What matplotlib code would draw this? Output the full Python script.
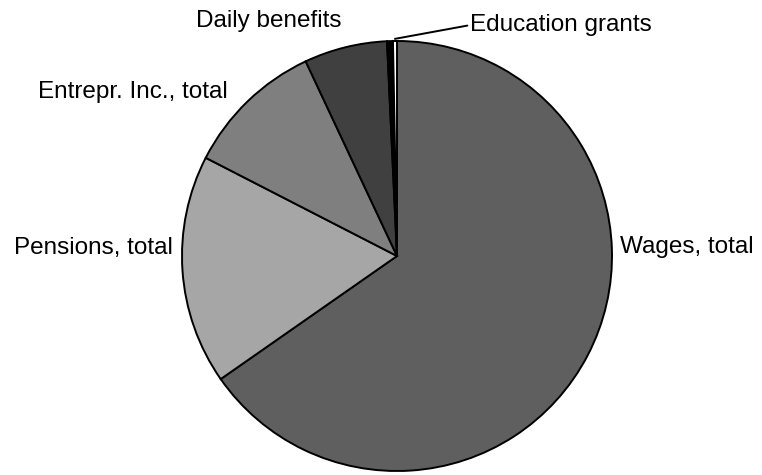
import numpy as np
import matplotlib.pyplot as plt

plt.rcParams['font.family'] = ['Liberation Sans', 'DejaVu Sans']

# shares of income (percent)
labels = ['Wages, total', 'Pensions, total', 'Entrepr. Inc., total',
          'Daily benefits', '', 'Education grants']
shares = [65.3, 17.25, 10.47, 6.24, 0.44, 0.30]
colors = ['#5f5f5f', '#a6a6a6', '#7f7f7f', '#404040', '#000000', '#ffffff']

fig = plt.figure(figsize=(7.62, 4.75), dpi=100)
ax = fig.add_axes([0, 0, 1, 1])

wedges, _ = ax.pie(shares, colors=colors, startangle=90, counterclock=False,
                   wedgeprops=dict(edgecolor='black', linewidth=1.4))

ax.set_aspect('equal')
ax.set_xlim(-397 / 215, (762 - 397) / 215)
ax.set_ylim(-(475 - 256) / 215, 256 / 215)
ax.axis('off')

fs = 17.5
ax.text(1.037, 0.042, labels[0], fontsize=fs, ha='left', va='center')
ax.text(-1.042, 0.037, labels[1], fontsize=fs, ha='right', va='center')
ax.text(-0.786, 0.763, labels[2], fontsize=fs, ha='right', va='center')
ax.text(-0.595, 1.093, labels[3], fontsize=fs, ha='center', va='center')

# leader line for the tiny education grants slice
w = wedges[5]
ang = np.deg2rad((w.theta1 + w.theta2) / 2)
ax.annotate(labels[5], xy=(np.cos(ang) * 1.01, np.sin(ang) * 1.01),
            xytext=(0.34, 1.074), fontsize=fs, ha='left', va='center',
            arrowprops=dict(arrowstyle='-', color='black', lw=1.4,
                            shrinkA=0, shrinkB=0, relpos=(0, 0.5)))

fig.savefig('out.png', dpi=100)
